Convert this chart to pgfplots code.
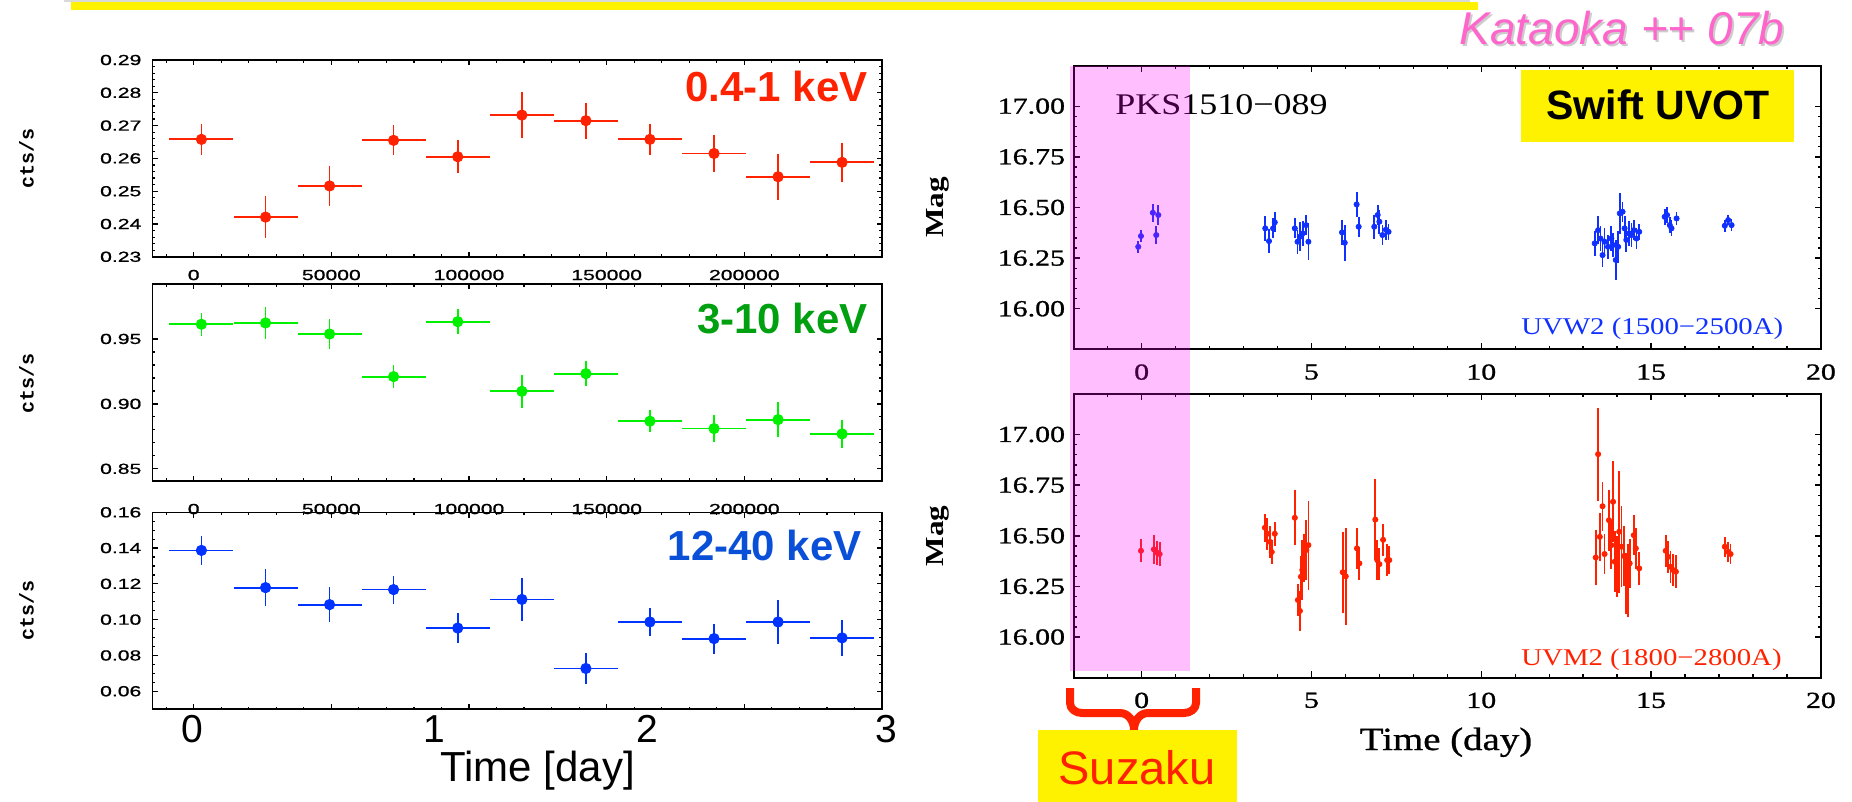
\documentclass[border=0pt]{standalone}
\usepackage{fontspec}
\setmainfont{Liberation Sans}
\newfontfamily\tickL[FakeStretch=1.45, FakeBold=1]{Liberation Sans}
\newfontfamily\tickR[FakeStretch=1.3, FakeBold=1]{Liberation Serif}
\newfontfamily\serifW[FakeStretch=1.2]{Liberation Serif}
\newfontfamily\serifB[FakeStretch=1.2, FakeBold=0.8]{Liberation Serif}
\newfontfamily\monoB{Liberation Mono}
\usepackage{pgfplots}
\pgfplotsset{compat=1.18}
\definecolor{cred}{HTML}{FF2200}
\definecolor{cgreen}{HTML}{00F000}
\definecolor{cgreenlab}{HTML}{00A010}
\definecolor{cblue}{HTML}{0033FF}
\definecolor{cbluelab}{HTML}{0A4FD8}
\definecolor{kpink}{HTML}{FF66CC}
\definecolor{ublue}{HTML}{1030FF}
\definecolor{bandc}{HTML}{FF00FF}
\pgfplotsset{
  leftax/.style={scale only axis, width=364.8pt, height=98.4pt,
    xmin=-15000, xmax=250000, scaled x ticks=false, scaled y ticks=false,
    axis line style={line width=0.8pt}, tick align=inside,
    tick style={line width=0.6pt, black},
    major tick length=2.6pt, minor tick length=1.3pt,
    xtick={0,50000,100000,150000,200000},
    xticklabels={0,50000,100000,150000,200000},
    minor xtick={-10000,10000,20000,30000,40000,60000,70000,80000,90000,110000,120000,130000,140000,160000,170000,180000,190000,210000,220000,230000,240000},
    xticklabel pos=lower, yticklabel pos=left,
    ticklabel style={font=\tickL\fontsize{7.3pt}{8pt}\selectfont},
    yticklabel style={xshift=-2pt},
    xticklabel style={yshift=-3pt},
  },
  lpts/.style={only marks, mark=*, mark size=2.6pt, color=#1,
    error bars/.cd, x dir=both, x explicit, y dir=both, y explicit,
    error mark=none, error bar style={line width=0.9pt, color=#1}},
  rightax/.style={scale only axis, width=373.6pt, height=141.8pt,
    xmin=-2, xmax=20, ymin=15.8, ymax=17.2,
    axis line style={line width=1pt}, tick align=inside,
    tick style={line width=0.7pt, black},
    major tick length=3.2pt, minor tick length=1.6pt,
    xtick={0,5,10,15,20}, xticklabels={0,5,10,15,20},
    minor xtick={-2,-1,1,2,3,4,6,7,8,9,11,12,13,14,16,17,18,19},
    ytick={16,16.25,16.5,16.75,17},
    yticklabels={16.00,16.25,16.50,16.75,17.00},
    minor y tick num=4,
    xticklabel pos=lower, yticklabel pos=left,
    ticklabel style={font=\tickR\fontsize{11.5pt}{13pt}\selectfont},
    xticklabel style={yshift=-4pt},
    yticklabel style={xshift=-0.8pt},
  },
  rpts/.style={only marks, mark=*, mark size=1.3pt, color=#1,
    error bars/.cd, y dir=both, y explicit,
    error mark=none, error bar style={line width=0.9pt, color=#1}},
}
\begin{document}
\begin{tikzpicture}
\useasboundingbox (0,0) rectangle (926pt,-401pt);

% ---------- left top ----------
\begin{axis}[leftax, at={(76.2pt,-30pt)}, anchor=north west,
  ymin=0.23, ymax=0.29, ytick={0.23,0.24,0.25,0.26,0.27,0.28,0.29},
  yticklabels={0.23,0.24,0.25,0.26,0.27,0.28,0.29}, minor y tick num=4]
\addplot[lpts=cred] coordinates {
(2800,0.2658) +- (11630,0.0048)
(26100,0.2421) +- (11630,0.0063)
(49350,0.2516) +- (11630,0.0060)
(72600,0.2655) +- (11630,0.0046)
(95900,0.2605) +- (11630,0.0050)
(119200,0.2732) +- (11630,0.0069)
(142450,0.2715) +- (11630,0.0055)
(165700,0.2658) +- (11630,0.0047)
(189000,0.2615) +- (11630,0.0055)
(212250,0.2544) +- (11630,0.0070)
(235500,0.2588) +- (11630,0.0060)
};
\end{axis}

% ---------- left middle ----------
\begin{axis}[leftax, at={(76.2pt,-142pt)}, anchor=north west,
  ymin=0.8408, ymax=0.9923, ytick={0.85,0.90,0.95},
  yticklabels={0.85,0.90,0.95}, minor y tick num=4,
  xticklabel style={yshift=-5pt}]
\addplot[lpts=cgreen] coordinates {
(2800,0.9613) +- (11630,0.0090)
(26100,0.9623) +- (11630,0.0120)
(49350,0.9538) +- (11630,0.0114)
(72600,0.9210) +- (11630,0.0086)
(95900,0.9633) +- (11630,0.0096)
(119200,0.9097) +- (11630,0.0126)
(142450,0.9233) +- (11630,0.0097)
(165700,0.8867) +- (11630,0.0083)
(189000,0.8810) +- (11630,0.0101)
(212250,0.8879) +- (11630,0.0132)
(235500,0.8769) +- (11630,0.0106)
};
\end{axis}

% ---------- left bottom ----------
\begin{axis}[leftax, at={(76.2pt,-256.15pt)}, anchor=north west,
  ymin=0.05, ymax=0.16, ytick={0.06,0.08,0.10,0.12,0.14,0.16},
  yticklabels={0.06,0.08,0.10,0.12,0.14,0.16}, minor y tick num=3,
  xticklabels={}]
\addplot[lpts=cblue] coordinates {
(2800,0.1387) +- (11630,0.0080)
(26100,0.1179) +- (11630,0.0103)
(49350,0.1084) +- (11630,0.0097)
(72600,0.1168) +- (11630,0.0078)
(95900,0.0953) +- (11630,0.0082)
(119200,0.1113) +- (11630,0.0122)
(142450,0.0727) +- (11630,0.0084)
(165700,0.0987) +- (11630,0.0078)
(189000,0.0894) +- (11630,0.0084)
(212250,0.0987) +- (11630,0.0123)
(235500,0.0898) +- (11630,0.0099)
};
\end{axis}

% ---------- right top (UVW2) ----------
\begin{axis}[rightax, at={(536.85pt,-32.85pt)}, anchor=north west]
\addplot[rpts=ublue] coordinates {
(-0.10,16.306) +- (0,0.03)
(-0.02,16.359) +- (0,0.03)
(0.33,16.474) +- (0,0.045)
(0.49,16.463) +- (0,0.05)
(0.43,16.364) +- (0,0.045)
(3.64,16.397) +- (0,0.06)
(3.75,16.334) +- (0,0.06)
(3.87,16.397) +- (0,0.05)
(3.92,16.427) +- (0,0.05)
(4.51,16.397) +- (0,0.05)
(4.59,16.331) +- (0,0.06)
(4.66,16.356) +- (0,0.07)
(4.74,16.372) +- (0,0.06)
(4.84,16.413) +- (0,0.05)
(4.91,16.331) +- (0,0.09)
(5.90,16.377) +- (0,0.06)
(5.98,16.326) +- (0,0.09)
(6.33,16.515) +- (0,0.06)
(6.39,16.405) +- (0,0.05)
(6.85,16.405) +- (0,0.06)
(6.95,16.463) +- (0,0.05)
(7.00,16.430) +- (0,0.06)
(7.09,16.364) +- (0,0.05)
(7.19,16.390) +- (0,0.05)
(7.27,16.380) +- (0,0.04)
(13.34,16.323) +- (0,0.06)
(13.44,16.388) +- (0,0.07)
(13.51,16.347) +- (0,0.06)
(13.57,16.265) +- (0,0.06)
(13.63,16.331) +- (0,0.07)
(13.73,16.306) +- (0,0.06)
(13.83,16.347) +- (0,0.06)
(13.88,16.315) +- (0,0.06)
(13.96,16.241) +- (0,0.10)
(14.03,16.306) +- (0,0.08)
(14.08,16.471) +- (0,0.10)
(14.16,16.479) +- (0,0.05)
(14.22,16.397) +- (0,0.06)
(14.27,16.340) +- (0,0.06)
(14.35,16.372) +- (0,0.06)
(14.42,16.364) +- (0,0.06)
(14.49,16.388) +- (0,0.05)
(14.57,16.347) +- (0,0.05)
(14.65,16.380) +- (0,0.04)
(15.40,16.454) +- (0,0.04)
(15.47,16.463) +- (0,0.04)
(15.55,16.413) +- (0,0.04)
(15.60,16.397) +- (0,0.04)
(15.75,16.446) +- (0,0.03)
(17.17,16.410) +- (0,0.03)
(17.27,16.438) +- (0,0.025)
(17.37,16.413) +- (0,0.03)
};
\end{axis}

% ---------- right bottom (UVM2) ----------
\begin{axis}[rightax, at={(536.85pt,-197pt)}, anchor=north west]
\addplot[rpts=cred] coordinates {
(-0.02,16.426) +- (0,0.057)
(0.36,16.433) +- (0,0.07)
(0.46,16.416) +- (0,0.06)
(0.53,16.410) +- (0,0.06)
(3.63,16.540) +- (0,0.07)
(3.70,16.510) +- (0,0.08)
(3.78,16.470) +- (0,0.08)
(3.83,16.420) +- (0,0.06)
(3.92,16.510) +- (0,0.06)
(4.51,16.589) +- (0,0.135)
(4.60,16.183) +- (0,0.08)
(4.66,16.129) +- (0,0.10)
(4.69,16.298) +- (0,0.10)
(4.73,16.331) +- (0,0.15)
(4.78,16.390) +- (0,0.12)
(4.85,16.430) +- (0,0.15)
(4.91,16.454) +- (0,0.22)
(5.92,16.320) +- (0,0.20)
(6.01,16.300) +- (0,0.24)
(6.34,16.438) +- (0,0.10)
(6.41,16.364) +- (0,0.08)
(6.88,16.580) +- (0,0.20)
(6.94,16.380) +- (0,0.10)
(7.00,16.360) +- (0,0.08)
(7.11,16.480) +- (0,0.08)
(7.23,16.380) +- (0,0.08)
(7.29,16.380) +- (0,0.07)
(13.37,16.393) +- (0,0.135)
(13.44,16.903) +- (0,0.23)
(13.49,16.495) +- (0,0.12)
(13.57,16.646) +- (0,0.12)
(13.63,16.410) +- (0,0.10)
(13.76,16.577) +- (0,0.15)
(13.83,16.454) +- (0,0.12)
(13.88,16.668) +- (0,0.20)
(13.93,16.372) +- (0,0.15)
(14.00,16.347) +- (0,0.15)
(14.06,16.520) +- (0,0.30)
(14.13,16.446) +- (0,0.20)
(14.20,16.400) +- (0,0.15)
(14.27,16.265) +- (0,0.15)
(14.32,16.280) +- (0,0.18)
(14.37,16.364) +- (0,0.12)
(14.49,16.503) +- (0,0.10)
(14.55,16.438) +- (0,0.10)
(14.65,16.339) +- (0,0.08)
(15.43,16.426) +- (0,0.08)
(15.50,16.396) +- (0,0.08)
(15.57,16.347) +- (0,0.08)
(15.65,16.331) +- (0,0.08)
(15.73,16.323) +- (0,0.08)
(17.17,16.446) +- (0,0.05)
(17.27,16.421) +- (0,0.05)
(17.34,16.410) +- (0,0.05)
};
\end{axis}

% ---------- annotations (pixel coordinates) ----------
\begin{scope}[x=0.5pt, y=-0.5pt]
% top strip
\fill[black!15] (64,0) rectangle (1470,2);
\fill[yellow] (71,2) rectangle (1478,10);
% left panel labels
\node[font=\bfseries\fontsize{21pt}{24pt}\selectfont, text=cred, anchor=base east, inner sep=0] at (868,101.7) {0.4-1 keV};
\node[font=\bfseries\fontsize{21pt}{24pt}\selectfont, text=cgreenlab, anchor=base east, inner sep=0] at (868,333.3) {3-10 keV};
\node[font=\bfseries\fontsize{21pt}{24pt}\selectfont, text=cbluelab, anchor=base east, inner sep=0] at (862,560) {12-40 keV};
\foreach \yc in {158.3,383,610.8}
  \node[font=\monoB\bfseries\fontsize{10pt}{12pt}\selectfont, rotate=90] at (26.6,\yc) {cts/s};
\node[font=\fontsize{19.5pt}{22pt}\selectfont, anchor=base, inner sep=0] at (192,742) {0};
\node[font=\fontsize{19.5pt}{22pt}\selectfont, anchor=base, inner sep=0] at (434,742) {1};
\node[font=\fontsize{19.5pt}{22pt}\selectfont, anchor=base, inner sep=0] at (647,742) {2};
\node[font=\fontsize{19.5pt}{22pt}\selectfont, anchor=base, inner sep=0] at (886,742) {3};
\node[font=\fontsize{21pt}{24pt}\selectfont, anchor=base, inner sep=0] at (537.5,781.7) {Time [day]};
% right panel labels
\node[font=\serifW\bfseries\fontsize{13pt}{14pt}\selectfont, rotate=90] at (938,207.5) {Mag};
\node[font=\serifW\bfseries\fontsize{13pt}{14pt}\selectfont, rotate=90] at (938,535.8) {Mag};
\node[font=\serifW\fontsize{15pt}{18pt}\selectfont, anchor=base west, inner sep=0] at (1115,115) {PKS1510−089};
\node[font=\serifW\fontsize{12pt}{14pt}\selectfont, text=ublue, anchor=base west, inner sep=0] at (1521,335) {UVW2 (1500−2500A)};
\node[font=\serifW\fontsize{12pt}{14pt}\selectfont, text=cred, anchor=base west, inner sep=0] at (1521,665) {UVM2 (1800−2800A)};
\node[font=\serifB\fontsize{16.2pt}{19pt}\selectfont, anchor=base, inner sep=0] at (1446,750) {Time (day)};
\fill[yellow] (1521.4,70) rectangle (1794.3,141.7);
\node[font=\bfseries\fontsize{20.5pt}{24pt}\selectfont, anchor=base, inner sep=0] at (1658,120) {Swift UVOT};
% Kataoka
\node[font=\itshape\fontsize{23pt}{26pt}\selectfont, text=black!20, anchor=base, inner sep=0] at (1624,47) {Kataoka ++ 07b};
\node[font=\itshape\fontsize{23pt}{26pt}\selectfont, text=kpink, anchor=base, inner sep=0] at (1622,45) {Kataoka ++ 07b};
% Suzaku band
\fill[bandc, opacity=0.25] (1069.5,65.7) rectangle (1190,670.7);
% brace
\draw[cred, line width=4pt, line cap=butt, line join=round]
  (1070,688) -- (1070,703) to[out=-90,in=180] (1082,713) -- (1120,713)
  to[out=0,in=90] (1134,730);
\draw[cred, line width=4pt, line cap=butt, line join=round]
  (1196,688) -- (1196,703) to[out=-90,in=0] (1184,713) -- (1148,713)
  to[out=180,in=90] (1134,730);
\fill[yellow] (1038,730) rectangle (1237,802);
\node[font=\fontsize{23.5pt}{27pt}\selectfont, text=cred, anchor=base, inner sep=0] at (1137,784) {Suzaku};
\end{scope}
\end{tikzpicture}
\end{document}
